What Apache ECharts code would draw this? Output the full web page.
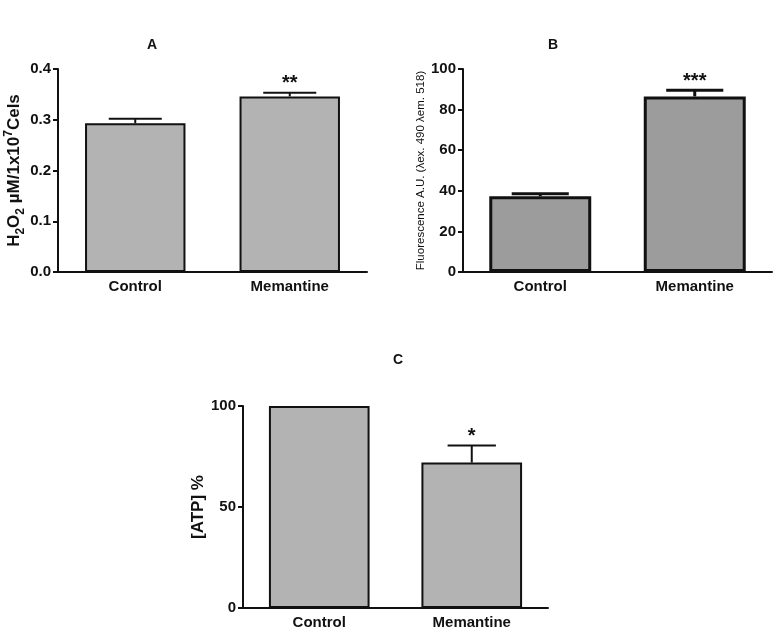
<!DOCTYPE html>
<html><head><meta charset="utf-8">
<script src="https://cdn.jsdelivr.net/npm/echarts@6/dist/echarts.min.js"></script>
<style>html,body{margin:0;padding:0;background:#fff}#c{width:778px;height:633px}</style>
</head><body><div id="c"></div>
<script>
var categories = ['Control', 'Memantine'];
var aMeans = [0.293, 0.346];
var aErrors = [0.009, 0.007];
var aStars = ['', '**'];
var bMeans = [37.3, 86.5];
var bErrors = [1.3, 3.0];
var bStars = ['', '***'];
var cMeans = [100, 72];
var cErrors = [0, 8.5];
var cStars = ['', '*'];
var aTicks = [0, 0.4, 0.1];
var bTicks = [0, 100, 20];
var cTicks = [0, 100, 50];

var FONT = 'Liberation Sans, Arial, sans-serif';
var chart = echarts.init(document.getElementById('c'));

function errData(means, errs, stars) {
  return means.map(function (m, i) { return [i, m, m + errs[i], stars[i]]; });
}
function errSeries(idx, means, errs, stars, capFrac, lw) {
  return {
    type: 'custom', xAxisIndex: idx, yAxisIndex: idx, z: 5,
    data: errData(means, errs, stars),
    renderItem: function (params, api) {
      var x = api.value(0), m = api.value(1), t = api.value(2), s = api.value(3);
      var p0 = api.coord([x, m]), p1 = api.coord([x, t]);
      var bw = api.size([1, 0])[0] * 0.66;
      var hw = bw * capFrac;
      var children = [];
      if (t > m) {
        children.push({ type: 'line', shape: { x1: p0[0], y1: p0[1], x2: p1[0], y2: p1[1] }, style: { stroke: '#111', lineWidth: lw } });
        children.push({ type: 'line', shape: { x1: p1[0] - hw, y1: p1[1], x2: p1[0] + hw, y2: p1[1] }, style: { stroke: '#111', lineWidth: lw } });
      }
      if (s) {
        children.push({ type: 'text', x: p1[0], y: p1[1] + 1, style: { text: s, fontSize: 20, fontWeight: 'bold', fontFamily: FONT, fill: '#111', align: 'center', verticalAlign: 'bottom' } });
      }
      return { type: 'group', children: children };
    }
  };
}
function xAx(idx) {
  return {
    gridIndex: idx, type: 'category', data: categories,
    axisLine: { lineStyle: { color: '#111', width: 2 } },
    axisTick: { alignWithLabel: true, length: 5, lineStyle: { color: '#111', width: 2 } },
    axisLabel: { color: '#111', fontSize: 15, fontWeight: 'bold', fontFamily: FONT, margin: 7 }
  };
}
function yAx(idx, t, name, nameStyle, gap, fmt) {
  return {
    gridIndex: idx, type: 'value', min: t[0], max: t[1], interval: t[2],
    name: name, nameLocation: 'middle', nameGap: gap, nameTextStyle: nameStyle,
    axisLine: { show: true, lineStyle: { color: '#111', width: 2 } },
    axisTick: { show: true, length: 5, lineStyle: { color: '#111', width: 2 } },
    splitLine: { show: false },
    axisLabel: { color: '#111', fontSize: 15, fontWeight: 'bold', fontFamily: FONT, margin: 7, formatter: fmt }
  };
}

chart.setOption({
  animation: false,
  title: [
    { text: 'A', left: 147, top: 33, textAlign: 'center', textStyle: { fontSize: 14, fontWeight: 'bold', fontFamily: FONT, color: '#111' } },
    { text: 'B', left: 548, top: 33, textAlign: 'center', textStyle: { fontSize: 14, fontWeight: 'bold', fontFamily: FONT, color: '#111' } },
    { text: 'C', left: 393, top: 348, textAlign: 'center', textStyle: { fontSize: 14, fontWeight: 'bold', fontFamily: FONT, color: '#111' } }
  ],
  grid: [
    { left: 58, top: 69, width: 309, height: 203, outerBoundsMode: 'none', containLabel: false },
    { left: 463, top: 69, width: 309, height: 203, outerBoundsMode: 'none', containLabel: false },
    { left: 243, top: 406, width: 305, height: 202, outerBoundsMode: 'none', containLabel: false }
  ],
  xAxis: [xAx(0), xAx(1), xAx(2)],
  yAxis: [
    yAx(0, aTicks, '{n|H}{s|2}{n|O}{s|2}{n| µM/1x10}{p|7}{n|Cels}', {
      rich: {
        n: { fontSize: 17, fontWeight: 'bold', fontFamily: FONT, color: '#111', lineHeight: 24 },
        s: { fontSize: 12, fontWeight: 'bold', fontFamily: FONT, color: '#111', lineHeight: 12, verticalAlign: 'bottom' },
        p: { fontSize: 12, fontWeight: 'bold', fontFamily: FONT, color: '#111', lineHeight: 12, verticalAlign: 'top' }
      }
    }, 30, function (v) { return v.toFixed(1); }),
    yAx(1, bTicks, 'Fluorescence A.U. (λex. 490 λem. 518)', { fontSize: 11.5, fontFamily: FONT, color: '#111' }, 31),
    yAx(2, cTicks, '[ATP] %', { fontSize: 17, fontWeight: 'bold', fontFamily: FONT, color: '#111' }, 36)
  ],
  series: [
    { type: 'bar', xAxisIndex: 0, yAxisIndex: 0, data: aMeans, barWidth: '65%', itemStyle: { color: '#b3b3b3', borderColor: '#111', borderWidth: 2 } },
    { type: 'bar', xAxisIndex: 1, yAxisIndex: 1, data: bMeans, barWidth: '66%', itemStyle: { color: '#9c9c9c', borderColor: '#111', borderWidth: 3 } },
    { type: 'bar', xAxisIndex: 2, yAxisIndex: 2, data: cMeans, barWidth: '66%', itemStyle: { color: '#b3b3b3', borderColor: '#111', borderWidth: 2 } },
    errSeries(0, aMeans, aErrors, aStars, 0.26, 2),
    errSeries(1, bMeans, bErrors, bStars, 0.28, 3),
    errSeries(2, cMeans, cErrors, cStars, 0.24, 2)
  ]
});
</script></body></html>
